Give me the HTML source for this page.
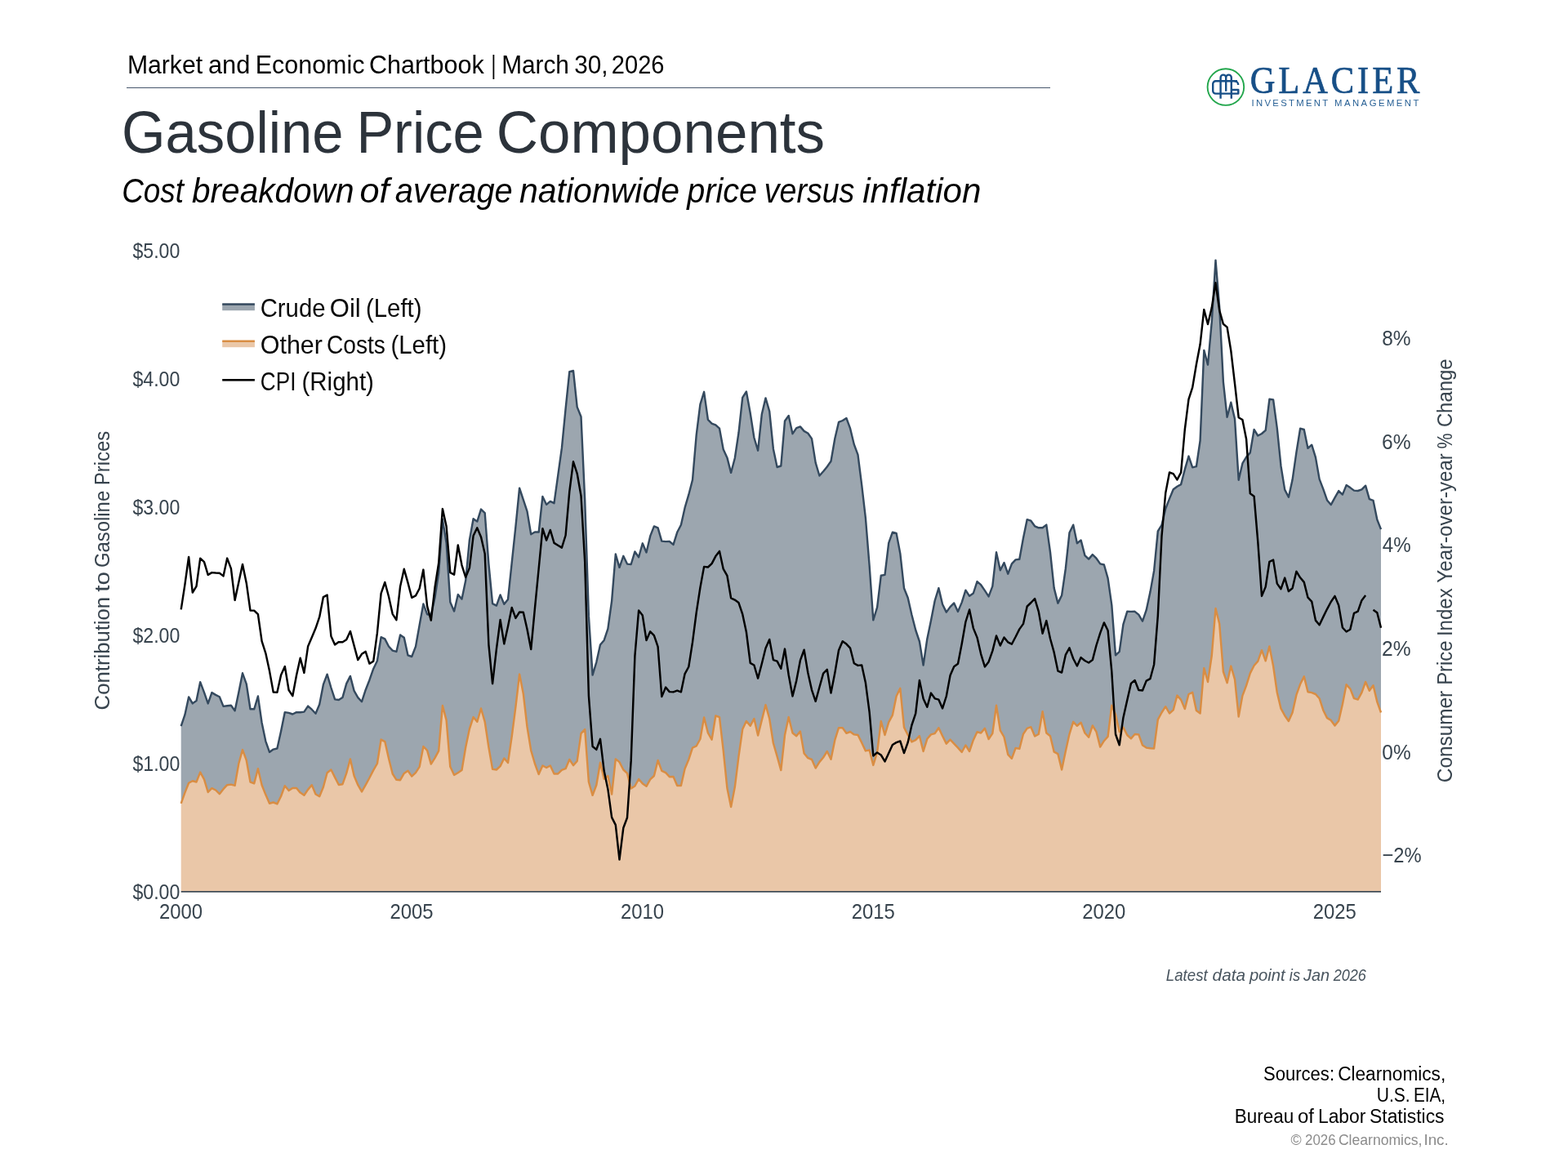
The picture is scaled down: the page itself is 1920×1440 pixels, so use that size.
<!DOCTYPE html>
<html lang="en">
<head>
<meta charset="utf-8">
<title>Gasoline Price Components</title>
<style>
html,body{margin:0;padding:0;background:#fff;}
body{width:1920px;height:1440px;overflow:hidden;font-family:"Liberation Sans",sans-serif;}
svg{display:block;position:absolute;left:0;top:0;}
svg text{font-family:"Liberation Sans",sans-serif;}
svg text.serif{font-family:"Liberation Serif",serif;}
</style>
</head>
<body>
<svg width="1920" height="1440" viewBox="0 0 1920 1440">
<rect x="0" y="0" width="1920" height="1440" fill="#ffffff"/>
<g id="chart">
<path d="M221.7,1091 L221.7,983.8 L226.4,970.6 L231.1,958.8 L235.8,956.2 L240.5,957.5 L245.2,945.6 L250,954.4 L254.7,970 L259.4,965.2 L264.1,967.5 L268.8,972.2 L273.5,966.2 L278.2,961.2 L282.9,960.6 L287.6,961.9 L292.3,935 L297,918.1 L301.8,931.2 L306.5,957.5 L311.2,959.4 L315.9,941.2 L320.6,961.2 L325.3,973.1 L330,983.8 L334.7,982.5 L339.4,984.4 L344.1,975 L348.8,962.2 L353.6,968.1 L358.3,965 L363,965 L367.7,970.6 L372.4,973.8 L377.1,966.9 L381.8,961.2 L386.5,972.5 L391.2,975.2 L395.9,963.8 L400.6,946.2 L405.4,942.5 L410.1,951.9 L414.8,961 L419.5,960.2 L424.2,946.9 L428.9,929.4 L433.6,950 L438.3,961.2 L443,969.4 L447.7,961.2 L452.4,952.5 L457.2,943.1 L461.9,935 L466.6,905.6 L471.3,908.1 L476,928.8 L480.7,947.5 L485.4,954.8 L490.1,955.2 L494.8,946.9 L499.5,943.8 L504.2,950.6 L509,946.2 L513.7,938.8 L518.4,914 L523.1,918.8 L527.8,935.6 L532.5,928.1 L537.2,919.4 L541.9,864 L546.6,881.9 L551.3,938.8 L556.1,949 L560.8,946.2 L565.5,943.1 L570.2,915 L574.9,892.5 L579.6,878.1 L584.3,883.8 L589,867.5 L593.7,883.8 L598.4,915 L603.1,941.9 L607.9,942.5 L612.6,938.1 L617.3,928.5 L622,934 L626.7,901.9 L631.4,865.6 L636.1,825.6 L640.8,849.4 L645.5,890 L650.2,918.8 L654.9,935 L659.7,948.1 L664.4,937.5 L669.1,940 L673.8,937.5 L678.5,947.5 L683.2,947.5 L687.9,942.8 L692.6,941.2 L697.3,930 L702,937.2 L706.7,931.9 L711.5,898.1 L716.2,893.1 L720.9,957.5 L725.6,973.8 L730.3,961.2 L735,933.8 L739.7,953.8 L744.4,950 L749.1,972.5 L753.8,929.4 L758.5,933.1 L763.3,942.5 L768,946.9 L772.7,965.6 L777.4,962.5 L782.1,954 L786.8,959.4 L791.5,962.8 L796.2,954.4 L800.9,950 L805.6,931 L810.3,943.8 L815.1,946.2 L819.8,951.2 L824.5,951 L829.2,961.9 L833.9,961.9 L838.6,941.2 L843.3,930 L848,915.6 L852.7,913.5 L857.4,905 L862.1,878.5 L866.9,897.5 L871.6,905.6 L876.3,876.5 L881,878.1 L885.7,918.8 L890.4,965 L895.1,988.1 L899.8,963.8 L904.5,926.2 L909.2,893.1 L913.9,883.1 L918.7,888.8 L923.4,880 L928.1,900.6 L932.8,881.9 L937.5,863.1 L942.2,880 L946.9,910 L951.6,926.2 L956.3,943.1 L961,900 L965.7,878.1 L970.5,897.5 L975.2,901.2 L979.9,895.6 L984.6,922.5 L989.3,928.1 L994,930 L998.7,940.6 L1003.4,933.1 L1008.1,927.5 L1012.8,920 L1017.5,929.8 L1022.3,906.2 L1027,891.2 L1031.7,891.2 L1036.4,897.8 L1041.1,896 L1045.8,899.4 L1050.5,900 L1055.2,909.4 L1059.9,919.4 L1064.6,918.5 L1069.3,936.9 L1074.1,921.2 L1078.8,883.1 L1083.5,900 L1088.2,884.4 L1092.9,875.6 L1097.6,852.5 L1102.3,842.8 L1107,890.6 L1111.7,900 L1116.4,908.4 L1121.2,906.2 L1125.9,901.2 L1130.6,920 L1135.3,904.8 L1140,899.4 L1144.7,898.1 L1149.4,891.2 L1154.1,901.2 L1158.8,910.6 L1163.5,905.6 L1168.2,910.6 L1173,915.6 L1177.7,921 L1182.4,912.5 L1187.1,920 L1191.8,906.2 L1196.5,896.2 L1201.2,897.5 L1205.9,891.9 L1210.6,905 L1215.3,898.1 L1220,863.8 L1224.8,894.4 L1229.5,902.5 L1234.2,923.8 L1238.9,928.8 L1243.6,916 L1248.3,916.9 L1253,898.8 L1257.7,891.9 L1262.4,890.2 L1267.1,901.5 L1271.8,899 L1276.6,871.2 L1281.3,897.5 L1286,901.2 L1290.7,920.6 L1295.4,923.1 L1300.1,942.5 L1304.8,920 L1309.5,898.8 L1314.2,883.8 L1318.9,888.8 L1323.6,884.8 L1328.4,897.5 L1333.1,902.8 L1337.8,888.5 L1342.5,896.2 L1347.2,914.6 L1351.9,907.2 L1356.6,901.9 L1361.3,863.8 L1366,875 L1370.7,896 L1375.4,890.6 L1380.2,900 L1384.9,904.4 L1389.6,899 L1394.3,899.4 L1399,912.5 L1403.7,915.6 L1408.4,916.2 L1413.1,916.5 L1417.8,881.2 L1422.5,872.5 L1427.2,865.2 L1432,873.5 L1436.7,869.4 L1441.4,851.6 L1446.1,856.9 L1450.8,868.1 L1455.5,850 L1460.2,847.8 L1464.9,870 L1469.6,873.5 L1474.3,818.1 L1479,835 L1483.8,802.5 L1488.5,745 L1493.2,763.8 L1497.9,822.5 L1502.6,836.2 L1507.3,815.6 L1512,831.9 L1516.7,877.5 L1521.4,851.9 L1526.1,839.4 L1530.8,824.4 L1535.6,815 L1540.3,809.6 L1545,796.2 L1549.7,809.3 L1554.4,791.4 L1559.1,815.6 L1563.8,848 L1568.5,867.6 L1573.2,876.2 L1577.9,883 L1582.6,872.5 L1587.4,850.9 L1592.1,837.8 L1596.8,828.4 L1601.5,847.2 L1606.2,848.1 L1610.9,850 L1615.6,855.2 L1620.3,869.7 L1625,879.1 L1629.7,881.9 L1634.5,888.4 L1639.2,882.8 L1643.9,862.2 L1648.6,838.3 L1653.3,843.4 L1658,855.2 L1662.7,856.6 L1667.4,848.1 L1672.1,835 L1676.8,845.8 L1681.5,839.2 L1686.3,859.4 L1691,872.5 L1691,1091 Z" fill="#eac7a8" stroke="none"/>
<path d="M221.7,889.1 L226.4,875.2 L231.1,853.4 L235.8,861.4 L240.5,858 L245.2,835.1 L250,847.9 L254.7,861.4 L259.4,848.1 L264.1,850.9 L268.8,853.3 L273.5,864.9 L278.2,864.3 L282.9,863.8 L287.6,870.2 L292.3,847.8 L297,824.3 L301.8,837.7 L306.5,868.3 L311.2,868.3 L315.9,852.5 L320.6,885 L325.3,907.6 L330,920.9 L334.7,917.6 L339.4,916.5 L344.1,895.3 L348.8,872.1 L353.6,872.9 L358.3,874.5 L363,872.1 L367.7,872.3 L372.4,871.6 L377.1,864.6 L381.8,868.7 L386.5,873.8 L391.2,862.5 L395.9,838.2 L400.6,825.7 L405.4,842 L410.1,856.4 L414.8,857 L419.5,853.9 L424.2,837.1 L428.9,827.9 L433.6,845.9 L438.3,854.1 L443,859.2 L447.7,844.7 L452.4,832.7 L457.2,818.9 L461.9,809.2 L466.6,780.2 L471.3,782.4 L476,791.5 L480.7,796.6 L485.4,797.9 L490.1,777.5 L494.8,780.8 L499.5,802.4 L504.2,804 L509,791.6 L513.7,765.1 L518.4,739.4 L523.1,752.2 L527.8,753 L532.5,732 L537.2,701.2 L541.9,635.8 L546.6,665 L551.3,737.2 L556.1,748.5 L560.8,727.9 L565.5,733.6 L570.2,710.8 L574.9,661.1 L579.6,635.2 L584.3,638.6 L589,623.6 L593.7,628.1 L598.4,690.4 L603.1,739.1 L607.9,741.6 L612.6,728.4 L617.3,739.8 L622,733.9 L626.7,689.2 L631.4,644.9 L636.1,597.7 L640.8,611.8 L645.5,626.1 L650.2,654.2 L654.9,651.5 L659.7,651.5 L664.4,608 L669.1,617.8 L673.8,613.9 L678.5,616.2 L683.2,582.3 L687.9,548.7 L692.6,500.4 L697.3,455.2 L702,454 L706.7,498.4 L711.5,510.3 L716.2,612.6 L720.9,754.4 L725.6,826.6 L730.3,810.8 L735,789.6 L739.7,783.9 L744.4,769.8 L749.1,735.8 L753.8,678.5 L758.5,694.8 L763.3,680.8 L768,690.6 L772.7,691 L777.4,675.4 L782.1,682.3 L786.8,665.3 L791.5,676.5 L796.2,656.4 L800.9,644.4 L805.6,646.3 L810.3,662.6 L815.1,663.1 L819.8,663 L824.5,666.9 L829.2,651.8 L833.9,642.7 L838.6,621.7 L843.3,605.7 L848,587.5 L852.7,532.6 L857.4,495.1 L862.1,479.8 L866.9,513.9 L871.6,518.6 L876.3,520.3 L881,524.7 L885.7,550.3 L890.4,560.4 L895.1,578.9 L899.8,561 L904.5,529.8 L909.2,486.9 L913.9,479.4 L918.7,505.7 L923.4,536 L928.1,551.7 L932.8,507.3 L937.5,487.4 L942.2,503.6 L946.9,549.7 L951.6,572 L956.3,570.5 L961,515.5 L965.7,509 L970.5,531.2 L975.2,524.1 L979.9,522.4 L984.6,527.9 L989.3,530.5 L994,537.1 L998.7,566.6 L1003.4,582.5 L1008.1,577.3 L1012.8,571.5 L1017.5,564.7 L1022.3,537 L1027,516.9 L1031.7,515 L1036.4,512 L1041.1,524.7 L1045.8,544.2 L1050.5,556.9 L1055.2,593.8 L1059.9,634.4 L1064.6,692.3 L1069.3,759.3 L1074.1,743.6 L1078.8,704.7 L1083.5,703.9 L1088.2,664.8 L1092.9,651.7 L1097.6,652.9 L1102.3,677.7 L1107,720.2 L1111.7,732 L1116.4,752.7 L1121.2,771.5 L1125.9,785.5 L1130.6,814.5 L1135.3,782.4 L1140,759.8 L1144.7,735.5 L1149.4,720.1 L1154.1,740 L1158.8,749.6 L1163.5,743.1 L1168.2,738.4 L1173,748.9 L1177.7,737.6 L1182.4,722.7 L1187.1,729.8 L1191.8,726.5 L1196.5,712.1 L1201.2,716.2 L1205.9,723.1 L1210.6,730.4 L1215.3,717.9 L1220,676.3 L1224.8,698.3 L1229.5,689 L1234.2,702.7 L1238.9,690.4 L1243.6,685.4 L1248.3,684.8 L1253,658.7 L1257.7,636.1 L1262.4,637.7 L1267.1,644.3 L1271.8,646.3 L1276.6,646.3 L1281.3,642.6 L1286,676 L1290.7,720.1 L1295.4,738.6 L1300.1,729 L1304.8,696.5 L1309.5,652.3 L1314.2,642.7 L1318.9,665.2 L1323.6,661.4 L1328.4,680.1 L1333.1,684.6 L1337.8,679.1 L1342.5,683.7 L1347.2,690.4 L1351.9,691.5 L1356.6,708.2 L1361.3,740.8 L1366,802.4 L1370.7,797.9 L1375.4,764.6 L1380.2,748.8 L1384.9,748.9 L1389.6,748.8 L1394.3,752.7 L1399,760.6 L1403.7,746.9 L1408.4,725.1 L1413.1,698.9 L1417.8,650.4 L1422.5,642.9 L1427.2,623 L1432,610.6 L1436.7,599.3 L1441.4,595.8 L1446.1,593.1 L1450.8,574.9 L1455.5,558.6 L1460.2,572.4 L1464.9,571.2 L1469.6,539.5 L1474.3,428.9 L1479,446.6 L1483.8,394 L1488.5,318.6 L1493.2,376 L1497.9,467.6 L1502.6,510.8 L1507.3,492.7 L1512,513.1 L1516.7,587.7 L1521.4,567.4 L1526.1,559.6 L1530.8,554.4 L1535.6,526 L1540.3,533.5 L1545,531 L1549.7,526.9 L1554.4,488.8 L1559.1,489.4 L1563.8,524.4 L1568.5,570.7 L1573.2,599.6 L1577.9,608.8 L1582.6,587.3 L1587.4,553.8 L1592.1,524.7 L1596.8,526 L1601.5,548.9 L1606.2,544.7 L1610.9,559.9 L1615.6,586.6 L1620.3,598.9 L1625,612.4 L1629.7,618.1 L1634.5,609.4 L1639.2,601.1 L1643.9,605.6 L1648.6,594.1 L1653.3,597.1 L1658,600.6 L1662.7,601 L1667.4,599.4 L1672.1,594.7 L1676.8,611.2 L1681.5,612.8 L1686.3,636.3 L1691,648.1 L1691,872.5 L1686.3,859.4 L1681.5,839.2 L1676.8,845.8 L1672.1,835 L1667.4,848.1 L1662.7,856.6 L1658,855.2 L1653.3,843.4 L1648.6,838.3 L1643.9,862.2 L1639.2,882.8 L1634.5,888.4 L1629.7,881.9 L1625,879.1 L1620.3,869.7 L1615.6,855.2 L1610.9,850 L1606.2,848.1 L1601.5,847.2 L1596.8,828.4 L1592.1,837.8 L1587.4,850.9 L1582.6,872.5 L1577.9,883 L1573.2,876.2 L1568.5,867.6 L1563.8,848 L1559.1,815.6 L1554.4,791.4 L1549.7,809.3 L1545,796.2 L1540.3,809.6 L1535.6,815 L1530.8,824.4 L1526.1,839.4 L1521.4,851.9 L1516.7,877.5 L1512,831.9 L1507.3,815.6 L1502.6,836.2 L1497.9,822.5 L1493.2,763.8 L1488.5,745 L1483.8,802.5 L1479,835 L1474.3,818.1 L1469.6,873.5 L1464.9,870 L1460.2,847.8 L1455.5,850 L1450.8,868.1 L1446.1,856.9 L1441.4,851.6 L1436.7,869.4 L1432,873.5 L1427.2,865.2 L1422.5,872.5 L1417.8,881.2 L1413.1,916.5 L1408.4,916.2 L1403.7,915.6 L1399,912.5 L1394.3,899.4 L1389.6,899 L1384.9,904.4 L1380.2,900 L1375.4,890.6 L1370.7,896 L1366,875 L1361.3,863.8 L1356.6,901.9 L1351.9,907.2 L1347.2,914.6 L1342.5,896.2 L1337.8,888.5 L1333.1,902.8 L1328.4,897.5 L1323.6,884.8 L1318.9,888.8 L1314.2,883.8 L1309.5,898.8 L1304.8,920 L1300.1,942.5 L1295.4,923.1 L1290.7,920.6 L1286,901.2 L1281.3,897.5 L1276.6,871.2 L1271.8,899 L1267.1,901.5 L1262.4,890.2 L1257.7,891.9 L1253,898.8 L1248.3,916.9 L1243.6,916 L1238.9,928.8 L1234.2,923.8 L1229.5,902.5 L1224.8,894.4 L1220,863.8 L1215.3,898.1 L1210.6,905 L1205.9,891.9 L1201.2,897.5 L1196.5,896.2 L1191.8,906.2 L1187.1,920 L1182.4,912.5 L1177.7,921 L1173,915.6 L1168.2,910.6 L1163.5,905.6 L1158.8,910.6 L1154.1,901.2 L1149.4,891.2 L1144.7,898.1 L1140,899.4 L1135.3,904.8 L1130.6,920 L1125.9,901.2 L1121.2,906.2 L1116.4,908.4 L1111.7,900 L1107,890.6 L1102.3,842.8 L1097.6,852.5 L1092.9,875.6 L1088.2,884.4 L1083.5,900 L1078.8,883.1 L1074.1,921.2 L1069.3,936.9 L1064.6,918.5 L1059.9,919.4 L1055.2,909.4 L1050.5,900 L1045.8,899.4 L1041.1,896 L1036.4,897.8 L1031.7,891.2 L1027,891.2 L1022.3,906.2 L1017.5,929.8 L1012.8,920 L1008.1,927.5 L1003.4,933.1 L998.7,940.6 L994,930 L989.3,928.1 L984.6,922.5 L979.9,895.6 L975.2,901.2 L970.5,897.5 L965.7,878.1 L961,900 L956.3,943.1 L951.6,926.2 L946.9,910 L942.2,880 L937.5,863.1 L932.8,881.9 L928.1,900.6 L923.4,880 L918.7,888.8 L913.9,883.1 L909.2,893.1 L904.5,926.2 L899.8,963.8 L895.1,988.1 L890.4,965 L885.7,918.8 L881,878.1 L876.3,876.5 L871.6,905.6 L866.9,897.5 L862.1,878.5 L857.4,905 L852.7,913.5 L848,915.6 L843.3,930 L838.6,941.2 L833.9,961.9 L829.2,961.9 L824.5,951 L819.8,951.2 L815.1,946.2 L810.3,943.8 L805.6,931 L800.9,950 L796.2,954.4 L791.5,962.8 L786.8,959.4 L782.1,954 L777.4,962.5 L772.7,965.6 L768,946.9 L763.3,942.5 L758.5,933.1 L753.8,929.4 L749.1,972.5 L744.4,950 L739.7,953.8 L735,933.8 L730.3,961.2 L725.6,973.8 L720.9,957.5 L716.2,893.1 L711.5,898.1 L706.7,931.9 L702,937.2 L697.3,930 L692.6,941.2 L687.9,942.8 L683.2,947.5 L678.5,947.5 L673.8,937.5 L669.1,940 L664.4,937.5 L659.7,948.1 L654.9,935 L650.2,918.8 L645.5,890 L640.8,849.4 L636.1,825.6 L631.4,865.6 L626.7,901.9 L622,934 L617.3,928.5 L612.6,938.1 L607.9,942.5 L603.1,941.9 L598.4,915 L593.7,883.8 L589,867.5 L584.3,883.8 L579.6,878.1 L574.9,892.5 L570.2,915 L565.5,943.1 L560.8,946.2 L556.1,949 L551.3,938.8 L546.6,881.9 L541.9,864 L537.2,919.4 L532.5,928.1 L527.8,935.6 L523.1,918.8 L518.4,914 L513.7,938.8 L509,946.2 L504.2,950.6 L499.5,943.8 L494.8,946.9 L490.1,955.2 L485.4,954.8 L480.7,947.5 L476,928.8 L471.3,908.1 L466.6,905.6 L461.9,935 L457.2,943.1 L452.4,952.5 L447.7,961.2 L443,969.4 L438.3,961.2 L433.6,950 L428.9,929.4 L424.2,946.9 L419.5,960.2 L414.8,961 L410.1,951.9 L405.4,942.5 L400.6,946.2 L395.9,963.8 L391.2,975.2 L386.5,972.5 L381.8,961.2 L377.1,966.9 L372.4,973.8 L367.7,970.6 L363,965 L358.3,965 L353.6,968.1 L348.8,962.2 L344.1,975 L339.4,984.4 L334.7,982.5 L330,983.8 L325.3,973.1 L320.6,961.2 L315.9,941.2 L311.2,959.4 L306.5,957.5 L301.8,931.2 L297,918.1 L292.3,935 L287.6,961.9 L282.9,960.6 L278.2,961.2 L273.5,966.2 L268.8,972.2 L264.1,967.5 L259.4,965.2 L254.7,970 L250,954.4 L245.2,945.6 L240.5,957.5 L235.8,956.2 L231.1,958.8 L226.4,970.6 L221.7,983.8 Z" fill="#9ca6af" stroke="none"/>
<path d="M221.7,983.8 L226.4,970.6 L231.1,958.8 L235.8,956.2 L240.5,957.5 L245.2,945.6 L250,954.4 L254.7,970 L259.4,965.2 L264.1,967.5 L268.8,972.2 L273.5,966.2 L278.2,961.2 L282.9,960.6 L287.6,961.9 L292.3,935 L297,918.1 L301.8,931.2 L306.5,957.5 L311.2,959.4 L315.9,941.2 L320.6,961.2 L325.3,973.1 L330,983.8 L334.7,982.5 L339.4,984.4 L344.1,975 L348.8,962.2 L353.6,968.1 L358.3,965 L363,965 L367.7,970.6 L372.4,973.8 L377.1,966.9 L381.8,961.2 L386.5,972.5 L391.2,975.2 L395.9,963.8 L400.6,946.2 L405.4,942.5 L410.1,951.9 L414.8,961 L419.5,960.2 L424.2,946.9 L428.9,929.4 L433.6,950 L438.3,961.2 L443,969.4 L447.7,961.2 L452.4,952.5 L457.2,943.1 L461.9,935 L466.6,905.6 L471.3,908.1 L476,928.8 L480.7,947.5 L485.4,954.8 L490.1,955.2 L494.8,946.9 L499.5,943.8 L504.2,950.6 L509,946.2 L513.7,938.8 L518.4,914 L523.1,918.8 L527.8,935.6 L532.5,928.1 L537.2,919.4 L541.9,864 L546.6,881.9 L551.3,938.8 L556.1,949 L560.8,946.2 L565.5,943.1 L570.2,915 L574.9,892.5 L579.6,878.1 L584.3,883.8 L589,867.5 L593.7,883.8 L598.4,915 L603.1,941.9 L607.9,942.5 L612.6,938.1 L617.3,928.5 L622,934 L626.7,901.9 L631.4,865.6 L636.1,825.6 L640.8,849.4 L645.5,890 L650.2,918.8 L654.9,935 L659.7,948.1 L664.4,937.5 L669.1,940 L673.8,937.5 L678.5,947.5 L683.2,947.5 L687.9,942.8 L692.6,941.2 L697.3,930 L702,937.2 L706.7,931.9 L711.5,898.1 L716.2,893.1 L720.9,957.5 L725.6,973.8 L730.3,961.2 L735,933.8 L739.7,953.8 L744.4,950 L749.1,972.5 L753.8,929.4 L758.5,933.1 L763.3,942.5 L768,946.9 L772.7,965.6 L777.4,962.5 L782.1,954 L786.8,959.4 L791.5,962.8 L796.2,954.4 L800.9,950 L805.6,931 L810.3,943.8 L815.1,946.2 L819.8,951.2 L824.5,951 L829.2,961.9 L833.9,961.9 L838.6,941.2 L843.3,930 L848,915.6 L852.7,913.5 L857.4,905 L862.1,878.5 L866.9,897.5 L871.6,905.6 L876.3,876.5 L881,878.1 L885.7,918.8 L890.4,965 L895.1,988.1 L899.8,963.8 L904.5,926.2 L909.2,893.1 L913.9,883.1 L918.7,888.8 L923.4,880 L928.1,900.6 L932.8,881.9 L937.5,863.1 L942.2,880 L946.9,910 L951.6,926.2 L956.3,943.1 L961,900 L965.7,878.1 L970.5,897.5 L975.2,901.2 L979.9,895.6 L984.6,922.5 L989.3,928.1 L994,930 L998.7,940.6 L1003.4,933.1 L1008.1,927.5 L1012.8,920 L1017.5,929.8 L1022.3,906.2 L1027,891.2 L1031.7,891.2 L1036.4,897.8 L1041.1,896 L1045.8,899.4 L1050.5,900 L1055.2,909.4 L1059.9,919.4 L1064.6,918.5 L1069.3,936.9 L1074.1,921.2 L1078.8,883.1 L1083.5,900 L1088.2,884.4 L1092.9,875.6 L1097.6,852.5 L1102.3,842.8 L1107,890.6 L1111.7,900 L1116.4,908.4 L1121.2,906.2 L1125.9,901.2 L1130.6,920 L1135.3,904.8 L1140,899.4 L1144.7,898.1 L1149.4,891.2 L1154.1,901.2 L1158.8,910.6 L1163.5,905.6 L1168.2,910.6 L1173,915.6 L1177.7,921 L1182.4,912.5 L1187.1,920 L1191.8,906.2 L1196.5,896.2 L1201.2,897.5 L1205.9,891.9 L1210.6,905 L1215.3,898.1 L1220,863.8 L1224.8,894.4 L1229.5,902.5 L1234.2,923.8 L1238.9,928.8 L1243.6,916 L1248.3,916.9 L1253,898.8 L1257.7,891.9 L1262.4,890.2 L1267.1,901.5 L1271.8,899 L1276.6,871.2 L1281.3,897.5 L1286,901.2 L1290.7,920.6 L1295.4,923.1 L1300.1,942.5 L1304.8,920 L1309.5,898.8 L1314.2,883.8 L1318.9,888.8 L1323.6,884.8 L1328.4,897.5 L1333.1,902.8 L1337.8,888.5 L1342.5,896.2 L1347.2,914.6 L1351.9,907.2 L1356.6,901.9 L1361.3,863.8 L1366,875 L1370.7,896 L1375.4,890.6 L1380.2,900 L1384.9,904.4 L1389.6,899 L1394.3,899.4 L1399,912.5 L1403.7,915.6 L1408.4,916.2 L1413.1,916.5 L1417.8,881.2 L1422.5,872.5 L1427.2,865.2 L1432,873.5 L1436.7,869.4 L1441.4,851.6 L1446.1,856.9 L1450.8,868.1 L1455.5,850 L1460.2,847.8 L1464.9,870 L1469.6,873.5 L1474.3,818.1 L1479,835 L1483.8,802.5 L1488.5,745 L1493.2,763.8 L1497.9,822.5 L1502.6,836.2 L1507.3,815.6 L1512,831.9 L1516.7,877.5 L1521.4,851.9 L1526.1,839.4 L1530.8,824.4 L1535.6,815 L1540.3,809.6 L1545,796.2 L1549.7,809.3 L1554.4,791.4 L1559.1,815.6 L1563.8,848 L1568.5,867.6 L1573.2,876.2 L1577.9,883 L1582.6,872.5 L1587.4,850.9 L1592.1,837.8 L1596.8,828.4 L1601.5,847.2 L1606.2,848.1 L1610.9,850 L1615.6,855.2 L1620.3,869.7 L1625,879.1 L1629.7,881.9 L1634.5,888.4 L1639.2,882.8 L1643.9,862.2 L1648.6,838.3 L1653.3,843.4 L1658,855.2 L1662.7,856.6 L1667.4,848.1 L1672.1,835 L1676.8,845.8 L1681.5,839.2 L1686.3,859.4 L1691,872.5" fill="none" stroke="#d98d43" stroke-width="2.45" stroke-linejoin="round"/>
<path d="M221.7,889.1 L226.4,875.2 L231.1,853.4 L235.8,861.4 L240.5,858 L245.2,835.1 L250,847.9 L254.7,861.4 L259.4,848.1 L264.1,850.9 L268.8,853.3 L273.5,864.9 L278.2,864.3 L282.9,863.8 L287.6,870.2 L292.3,847.8 L297,824.3 L301.8,837.7 L306.5,868.3 L311.2,868.3 L315.9,852.5 L320.6,885 L325.3,907.6 L330,920.9 L334.7,917.6 L339.4,916.5 L344.1,895.3 L348.8,872.1 L353.6,872.9 L358.3,874.5 L363,872.1 L367.7,872.3 L372.4,871.6 L377.1,864.6 L381.8,868.7 L386.5,873.8 L391.2,862.5 L395.9,838.2 L400.6,825.7 L405.4,842 L410.1,856.4 L414.8,857 L419.5,853.9 L424.2,837.1 L428.9,827.9 L433.6,845.9 L438.3,854.1 L443,859.2 L447.7,844.7 L452.4,832.7 L457.2,818.9 L461.9,809.2 L466.6,780.2 L471.3,782.4 L476,791.5 L480.7,796.6 L485.4,797.9 L490.1,777.5 L494.8,780.8 L499.5,802.4 L504.2,804 L509,791.6 L513.7,765.1 L518.4,739.4 L523.1,752.2 L527.8,753 L532.5,732 L537.2,701.2 L541.9,635.8 L546.6,665 L551.3,737.2 L556.1,748.5 L560.8,727.9 L565.5,733.6 L570.2,710.8 L574.9,661.1 L579.6,635.2 L584.3,638.6 L589,623.6 L593.7,628.1 L598.4,690.4 L603.1,739.1 L607.9,741.6 L612.6,728.4 L617.3,739.8 L622,733.9 L626.7,689.2 L631.4,644.9 L636.1,597.7 L640.8,611.8 L645.5,626.1 L650.2,654.2 L654.9,651.5 L659.7,651.5 L664.4,608 L669.1,617.8 L673.8,613.9 L678.5,616.2 L683.2,582.3 L687.9,548.7 L692.6,500.4 L697.3,455.2 L702,454 L706.7,498.4 L711.5,510.3 L716.2,612.6 L720.9,754.4 L725.6,826.6 L730.3,810.8 L735,789.6 L739.7,783.9 L744.4,769.8 L749.1,735.8 L753.8,678.5 L758.5,694.8 L763.3,680.8 L768,690.6 L772.7,691 L777.4,675.4 L782.1,682.3 L786.8,665.3 L791.5,676.5 L796.2,656.4 L800.9,644.4 L805.6,646.3 L810.3,662.6 L815.1,663.1 L819.8,663 L824.5,666.9 L829.2,651.8 L833.9,642.7 L838.6,621.7 L843.3,605.7 L848,587.5 L852.7,532.6 L857.4,495.1 L862.1,479.8 L866.9,513.9 L871.6,518.6 L876.3,520.3 L881,524.7 L885.7,550.3 L890.4,560.4 L895.1,578.9 L899.8,561 L904.5,529.8 L909.2,486.9 L913.9,479.4 L918.7,505.7 L923.4,536 L928.1,551.7 L932.8,507.3 L937.5,487.4 L942.2,503.6 L946.9,549.7 L951.6,572 L956.3,570.5 L961,515.5 L965.7,509 L970.5,531.2 L975.2,524.1 L979.9,522.4 L984.6,527.9 L989.3,530.5 L994,537.1 L998.7,566.6 L1003.4,582.5 L1008.1,577.3 L1012.8,571.5 L1017.5,564.7 L1022.3,537 L1027,516.9 L1031.7,515 L1036.4,512 L1041.1,524.7 L1045.8,544.2 L1050.5,556.9 L1055.2,593.8 L1059.9,634.4 L1064.6,692.3 L1069.3,759.3 L1074.1,743.6 L1078.8,704.7 L1083.5,703.9 L1088.2,664.8 L1092.9,651.7 L1097.6,652.9 L1102.3,677.7 L1107,720.2 L1111.7,732 L1116.4,752.7 L1121.2,771.5 L1125.9,785.5 L1130.6,814.5 L1135.3,782.4 L1140,759.8 L1144.7,735.5 L1149.4,720.1 L1154.1,740 L1158.8,749.6 L1163.5,743.1 L1168.2,738.4 L1173,748.9 L1177.7,737.6 L1182.4,722.7 L1187.1,729.8 L1191.8,726.5 L1196.5,712.1 L1201.2,716.2 L1205.9,723.1 L1210.6,730.4 L1215.3,717.9 L1220,676.3 L1224.8,698.3 L1229.5,689 L1234.2,702.7 L1238.9,690.4 L1243.6,685.4 L1248.3,684.8 L1253,658.7 L1257.7,636.1 L1262.4,637.7 L1267.1,644.3 L1271.8,646.3 L1276.6,646.3 L1281.3,642.6 L1286,676 L1290.7,720.1 L1295.4,738.6 L1300.1,729 L1304.8,696.5 L1309.5,652.3 L1314.2,642.7 L1318.9,665.2 L1323.6,661.4 L1328.4,680.1 L1333.1,684.6 L1337.8,679.1 L1342.5,683.7 L1347.2,690.4 L1351.9,691.5 L1356.6,708.2 L1361.3,740.8 L1366,802.4 L1370.7,797.9 L1375.4,764.6 L1380.2,748.8 L1384.9,748.9 L1389.6,748.8 L1394.3,752.7 L1399,760.6 L1403.7,746.9 L1408.4,725.1 L1413.1,698.9 L1417.8,650.4 L1422.5,642.9 L1427.2,623 L1432,610.6 L1436.7,599.3 L1441.4,595.8 L1446.1,593.1 L1450.8,574.9 L1455.5,558.6 L1460.2,572.4 L1464.9,571.2 L1469.6,539.5 L1474.3,428.9 L1479,446.6 L1483.8,394 L1488.5,318.6 L1493.2,376 L1497.9,467.6 L1502.6,510.8 L1507.3,492.7 L1512,513.1 L1516.7,587.7 L1521.4,567.4 L1526.1,559.6 L1530.8,554.4 L1535.6,526 L1540.3,533.5 L1545,531 L1549.7,526.9 L1554.4,488.8 L1559.1,489.4 L1563.8,524.4 L1568.5,570.7 L1573.2,599.6 L1577.9,608.8 L1582.6,587.3 L1587.4,553.8 L1592.1,524.7 L1596.8,526 L1601.5,548.9 L1606.2,544.7 L1610.9,559.9 L1615.6,586.6 L1620.3,598.9 L1625,612.4 L1629.7,618.1 L1634.5,609.4 L1639.2,601.1 L1643.9,605.6 L1648.6,594.1 L1653.3,597.1 L1658,600.6 L1662.7,601 L1667.4,599.4 L1672.1,594.7 L1676.8,611.2 L1681.5,612.8 L1686.3,636.3 L1691,648.1" fill="none" stroke="#34495e" stroke-width="2.4" stroke-linejoin="round"/>
<path d="M221.7,746.4 L226.4,715.9 L231.1,681.9 L235.8,725.6 L240.5,717.9 L245.2,683.7 L250,688.2 L254.7,703.9 L259.4,701.1 L264.1,701.5 L268.8,701.7 L273.5,705.4 L278.2,683.6 L282.9,696.1 L287.6,734.9 L292.3,712.9 L297,691 L301.8,714.2 L306.5,747.6 L311.2,747.6 L315.9,752.2 L320.6,785.2 L325.3,799.8 L330,821.6 L334.7,847.5 L339.4,847.8 L344.1,826.4 L348.8,816 L353.6,845 L358.3,852.2 L363,827.1 L367.7,805.7 L372.4,823.9 L377.1,791.6 L381.8,780.6 L386.5,769.3 L391.2,755.4 L395.9,731.1 L400.6,728.6 L405.4,779 L410.1,789.5 L414.8,786.1 L419.5,786.2 L424.2,783.2 L428.9,772.9 L433.6,790.6 L438.3,808.1 L443,800.8 L447.7,797.9 L452.4,812.6 L457.2,809.8 L461.9,775.2 L466.6,726.6 L471.3,713 L476,730.5 L480.7,751.8 L485.4,759.2 L490.1,717.9 L494.8,696.8 L499.5,713.7 L504.2,731.8 L509,729.4 L513.7,720.5 L518.4,697.6 L523.1,742.4 L527.8,759.6 L532.5,719.3 L537.2,689.3 L541.9,623.1 L546.6,644.6 L551.3,701.1 L556.1,703.6 L560.8,667.5 L565.5,692.1 L570.2,706.9 L574.9,695.4 L579.6,656 L584.3,646.4 L589,657.4 L593.7,678.1 L598.4,789.3 L603.1,837.2 L607.9,794.9 L612.6,759 L617.3,788.4 L622,766.9 L626.7,743.9 L631.4,756.9 L636.1,749.5 L640.8,749.7 L645.5,770.5 L650.2,795.1 L654.9,745.4 L659.7,696 L664.4,647.2 L669.1,661.5 L673.8,648.9 L678.5,664.9 L683.2,667.8 L687.9,670.6 L692.6,655.5 L697.3,601.9 L702,565.3 L706.7,579.8 L711.5,607.3 L716.2,688.4 L720.9,852.1 L725.6,914 L730.3,917.9 L735,904.8 L739.7,944.1 L744.4,966.4 L749.1,1000.9 L753.8,1010.1 L758.5,1052.6 L763.3,1013.8 L768,1001.2 L772.7,931.4 L777.4,803.4 L782.1,747.5 L786.8,753.6 L791.5,784.1 L796.2,773.3 L800.9,778.2 L805.6,791.9 L810.3,853.1 L815.1,841.6 L819.8,847.1 L824.5,847.4 L829.2,845.6 L833.9,847.4 L838.6,825.1 L843.3,816.5 L848,786.4 L852.7,750.1 L857.4,719.5 L862.1,693.9 L866.9,694.5 L871.6,690.1 L876.3,681.1 L881,674.9 L885.7,696.7 L890.4,704.9 L895.1,732.3 L899.8,734.6 L904.5,738.1 L909.2,752 L913.9,774 L918.7,811.9 L923.4,814.5 L928.1,830.6 L932.8,812.7 L937.5,793.8 L942.2,782.9 L946.9,808.1 L951.6,809.6 L956.3,818.8 L961,794.6 L965.7,826.5 L970.5,852.5 L975.2,833.6 L979.9,808.7 L984.6,795.7 L989.3,823.7 L994,844.8 L998.7,858.8 L1003.4,841.5 L1008.1,824.7 L1012.8,819.9 L1017.5,848.5 L1022.3,824.1 L1027,796.2 L1031.7,785.2 L1036.4,788.6 L1041.1,793.7 L1045.8,812.2 L1050.5,814.9 L1055.2,814.4 L1059.9,836.1 L1064.6,871.9 L1069.3,925.5 L1074.1,921.4 L1078.8,924.5 L1083.5,932.4 L1088.2,922.3 L1092.9,912 L1097.6,909.1 L1102.3,907.5 L1107,922.1 L1111.7,909 L1116.4,888 L1121.2,873.6 L1125.9,832.9 L1130.6,855.4 L1135.3,865.8 L1140,848.6 L1144.7,855.3 L1149.4,856.7 L1154.1,867.4 L1158.8,852.5 L1163.5,827.1 L1168.2,816.2 L1173,812.7 L1177.7,788.5 L1182.4,761.5 L1187.1,746.5 L1191.8,769.1 L1196.5,780.6 L1201.2,801.1 L1205.9,816.4 L1210.6,810.4 L1215.3,797.1 L1220,778.5 L1224.8,790.6 L1229.5,780.4 L1234.2,786.3 L1238.9,788.7 L1243.6,779.8 L1248.3,770.4 L1253,763.9 L1257.7,742.5 L1262.4,738 L1267.1,733.1 L1271.8,748.9 L1276.6,775.7 L1281.3,760.1 L1286,782 L1290.7,798.9 L1295.4,821.6 L1300.1,823.6 L1304.8,801.9 L1309.5,793.4 L1314.2,806.5 L1318.9,815.5 L1323.6,805.1 L1328.4,809 L1333.1,811.5 L1337.8,808.1 L1342.5,790 L1347.2,775.2 L1351.9,762.4 L1356.6,772 L1361.3,822.4 L1366,899 L1370.7,912.3 L1375.4,878.9 L1380.2,857.4 L1384.9,836.9 L1389.6,833 L1394.3,845 L1399,845.5 L1403.7,833.6 L1408.4,831.2 L1413.1,813.7 L1417.8,754 L1422.5,656.5 L1427.2,603.8 L1432,578.5 L1436.7,580.2 L1441.4,587.4 L1446.1,578.6 L1450.8,526 L1455.5,488.8 L1460.2,474.4 L1464.9,446.3 L1469.6,421.6 L1474.3,379.1 L1479,397 L1483.8,376.6 L1488.5,346.3 L1493.2,380.2 L1497.9,396.8 L1502.6,400.6 L1507.3,429.5 L1512,469.7 L1516.7,511.2 L1521.4,514 L1526.1,537.7 L1530.8,604.3 L1535.6,607.7 L1540.3,663.6 L1545,729.9 L1549.7,718.6 L1554.4,687.8 L1559.1,685.6 L1563.8,714.6 L1568.5,721.2 L1573.2,707.6 L1577.9,724.1 L1582.6,720.2 L1587.4,699.7 L1592.1,707.3 L1596.8,712.9 L1601.5,731.7 L1606.2,736.6 L1610.9,759.6 L1615.6,765.3 L1620.3,755.4 L1625,745.8 L1629.7,737 L1634.5,729.9 L1639.2,741.2 L1643.9,768.5 L1648.6,773.5 L1653.3,770.7 L1658,750.8 L1662.7,748.6 L1667.4,735.2 L1672.1,729.1 M1681.5,746.7 L1686.3,750.3 L1691,768.7" fill="none" stroke="#000000" stroke-width="2.45" stroke-linejoin="round" stroke-linecap="butt"/>
<rect x="221.7" y="1091.0" width="1469.3" height="1.7" fill="#3c4852"/>
</g>
<rect x="155" y="107" width="1131" height="1" fill="#46566b"/>
<rect x="272.2" y="372.6" width="39.7" height="7.6" fill="#9ca6af"/><rect x="272.2" y="371.3" width="39.7" height="2.5" fill="#34495e"/>
<rect x="272.2" y="417.6" width="39.7" height="7.6" fill="#eac7a8"/><rect x="272.2" y="416.5" width="39.7" height="2.5" fill="#d98d43"/>
<rect x="272.2" y="464" width="39.7" height="2.6" fill="#000"/>
<g id="logo">
<circle cx="1500.9" cy="106.6" r="22.3" fill="#fff" stroke="#22a64c" stroke-width="1.9"/>
<g fill="none" stroke="#174f87" stroke-width="2.4" stroke-linecap="butt" stroke-linejoin="round">
<path d="M1494.6,120.8 V95.1 a3.3,3.5 0 0 1 6.6,0 M1501.2,111.7 V95.1 a3.3,3.5 0 0 1 6.6,0 V120.8"/>
<path d="M1515,99.3 H1488.6 a3.4,3.4 0 0 0 -3.4,3.4 V111.2 a3.4,3.4 0 0 0 3.4,3.4 H1516.3 V110 H1507"/>
<path d="M1511.6,99.3 a4.6,4.6 0 0 1 4.6,4.6"/>
</g>
</g>
<text font-size="31" fill="#000" y="90"><tspan x="155.93" textLength="92.2" lengthAdjust="spacingAndGlyphs">Market</tspan> <tspan x="254.99" textLength="51.39" lengthAdjust="spacingAndGlyphs">and</tspan> <tspan x="312.8" textLength="133.6" lengthAdjust="spacingAndGlyphs">Economic</tspan> <tspan x="451.95" textLength="140.81" lengthAdjust="spacingAndGlyphs">Chartbook</tspan> <tspan x="601.62" textLength="5.77" lengthAdjust="spacingAndGlyphs">|</tspan> <tspan x="614.16" textLength="82.78" lengthAdjust="spacingAndGlyphs">March</tspan> <tspan x="703.27" textLength="41.3" lengthAdjust="spacingAndGlyphs">30,</tspan> <tspan x="748.84" textLength="64.64" lengthAdjust="spacingAndGlyphs">2026</tspan></text>
<text font-size="71.5" fill="#2c333b" y="186.6"><tspan x="149.04" textLength="271.52" lengthAdjust="spacingAndGlyphs">Gasoline</tspan> <tspan x="436.38" textLength="156.17" lengthAdjust="spacingAndGlyphs">Price</tspan> <tspan x="607.7" textLength="402.37" lengthAdjust="spacingAndGlyphs">Components</tspan></text>
<text font-size="42" fill="#000" font-style="italic" y="248.3"><tspan x="149.27" textLength="75.76" lengthAdjust="spacingAndGlyphs">Cost</tspan> <tspan x="235.03" textLength="198.42" lengthAdjust="spacingAndGlyphs">breakdown</tspan> <tspan x="440.48" textLength="36.08" lengthAdjust="spacingAndGlyphs">of</tspan> <tspan x="483.81" textLength="143.97" lengthAdjust="spacingAndGlyphs">average</tspan> <tspan x="635.92" textLength="196.2" lengthAdjust="spacingAndGlyphs">nationwide</tspan> <tspan x="841.29" textLength="85.78" lengthAdjust="spacingAndGlyphs">price</tspan> <tspan x="935.75" textLength="110.62" lengthAdjust="spacingAndGlyphs">versus</tspan> <tspan x="1056.22" textLength="145.09" lengthAdjust="spacingAndGlyphs">inflation</tspan></text>
<text font-size="31.2" fill="#0a0a0a" y="388"><tspan x="318.71" textLength="79.79" lengthAdjust="spacingAndGlyphs">Crude</tspan> <tspan x="403.83" textLength="37.95" lengthAdjust="spacingAndGlyphs">Oil</tspan> <tspan x="447.98" textLength="68.54" lengthAdjust="spacingAndGlyphs">(Left)</tspan></text>
<text font-size="31.2" fill="#0a0a0a" y="433"><tspan x="318.76" textLength="76.15" lengthAdjust="spacingAndGlyphs">Other</tspan> <tspan x="399.97" textLength="71.95" lengthAdjust="spacingAndGlyphs">Costs</tspan> <tspan x="478.48" textLength="68.54" lengthAdjust="spacingAndGlyphs">(Left)</tspan></text>
<text font-size="31.2" fill="#0a0a0a" y="478"><tspan x="318.87" textLength="43.54" lengthAdjust="spacingAndGlyphs">CPI</tspan> <tspan x="369.47" textLength="88.46" lengthAdjust="spacingAndGlyphs">(Right)</tspan></text>
<text font-size="26.2" fill="#38444e" y="1100.9"><tspan x="162.45" textLength="57.85" lengthAdjust="spacingAndGlyphs">$0.00</tspan></text>
<text font-size="26.2" fill="#38444e" y="944"><tspan x="162.45" textLength="57.85" lengthAdjust="spacingAndGlyphs">$1.00</tspan></text>
<text font-size="26.2" fill="#38444e" y="787.1"><tspan x="162.45" textLength="57.85" lengthAdjust="spacingAndGlyphs">$2.00</tspan></text>
<text font-size="26.2" fill="#38444e" y="630.2"><tspan x="162.45" textLength="57.85" lengthAdjust="spacingAndGlyphs">$3.00</tspan></text>
<text font-size="26.2" fill="#38444e" y="473.3"><tspan x="162.45" textLength="57.85" lengthAdjust="spacingAndGlyphs">$4.00</tspan></text>
<text font-size="26.2" fill="#38444e" y="316.4"><tspan x="162.45" textLength="57.85" lengthAdjust="spacingAndGlyphs">$5.00</tspan></text>
<text font-size="26.2" fill="#38444e" y="1125"><tspan x="195" textLength="53.03" lengthAdjust="spacingAndGlyphs">2000</tspan></text>
<text font-size="26.2" fill="#38444e" y="1125"><tspan x="477.55" textLength="53.1" lengthAdjust="spacingAndGlyphs">2005</tspan></text>
<text font-size="26.2" fill="#38444e" y="1125"><tspan x="760.1" textLength="53.03" lengthAdjust="spacingAndGlyphs">2010</tspan></text>
<text font-size="26.2" fill="#38444e" y="1125"><tspan x="1042.65" textLength="53.1" lengthAdjust="spacingAndGlyphs">2015</tspan></text>
<text font-size="26.2" fill="#38444e" y="1125"><tspan x="1325.2" textLength="53.03" lengthAdjust="spacingAndGlyphs">2020</tspan></text>
<text font-size="26.2" fill="#38444e" y="1125"><tspan x="1607.75" textLength="53.1" lengthAdjust="spacingAndGlyphs">2025</tspan></text>
<text font-size="26.2" fill="#38444e" y="1056.1"><tspan x="1692.43" textLength="48.12" lengthAdjust="spacingAndGlyphs">−2%</tspan></text>
<text font-size="26.2" fill="#38444e" y="929.5"><tspan x="1692.35" textLength="35.22" lengthAdjust="spacingAndGlyphs">0%</tspan></text>
<text font-size="26.2" fill="#38444e" y="802.9"><tspan x="1692.06" textLength="35.51" lengthAdjust="spacingAndGlyphs">2%</tspan></text>
<text font-size="26.2" fill="#38444e" y="676.3"><tspan x="1692.75" textLength="34.81" lengthAdjust="spacingAndGlyphs">4%</tspan></text>
<text font-size="26.2" fill="#38444e" y="549.7"><tspan x="1692.05" textLength="35.53" lengthAdjust="spacingAndGlyphs">6%</tspan></text>
<text font-size="26.2" fill="#38444e" y="423.1"><tspan x="1692.24" textLength="35.33" lengthAdjust="spacingAndGlyphs">8%</tspan></text>
<text font-size="25.5" fill="#38444e" transform="translate(133.7,0) rotate(-90)" y="0"><tspan x="-869.41" textLength="138.57" lengthAdjust="spacingAndGlyphs">Contribution</tspan> <tspan x="-724.85" textLength="24.8" lengthAdjust="spacingAndGlyphs">to</tspan> <tspan x="-695" textLength="94.16" lengthAdjust="spacingAndGlyphs">Gasoline</tspan> <tspan x="-594.27" textLength="66.63" lengthAdjust="spacingAndGlyphs">Prices</tspan></text>
<text font-size="25.5" fill="#38444e" transform="translate(1778.1,0) rotate(-90)" y="0"><tspan x="-958.14" textLength="112.24" lengthAdjust="spacingAndGlyphs">Consumer</tspan> <tspan x="-838.86" textLength="54.31" lengthAdjust="spacingAndGlyphs">Price</tspan> <tspan x="-779.12" textLength="58.78" lengthAdjust="spacingAndGlyphs">Index</tspan> <tspan x="-713.63" textLength="158.43" lengthAdjust="spacingAndGlyphs">Year-over-year</tspan> <tspan x="-549.56" textLength="19.03" lengthAdjust="spacingAndGlyphs">%</tspan> <tspan x="-523.11" textLength="83.57" lengthAdjust="spacingAndGlyphs">Change</tspan></text>
<text font-size="20.4" fill="#48545e" font-style="italic" y="1200.6"><tspan x="1427.83" textLength="50.83" lengthAdjust="spacingAndGlyphs">Latest</tspan> <tspan x="1484.6" textLength="40.41" lengthAdjust="spacingAndGlyphs">data</tspan> <tspan x="1529.9" textLength="43.8" lengthAdjust="spacingAndGlyphs">point</tspan> <tspan x="1578.8" textLength="13.27" lengthAdjust="spacingAndGlyphs">is</tspan> <tspan x="1596.05" textLength="32.05" lengthAdjust="spacingAndGlyphs">Jan</tspan> <tspan x="1632.71" textLength="40.19" lengthAdjust="spacingAndGlyphs">2026</tspan></text>
<text font-size="23.0" fill="#000" y="1322.6"><tspan x="1547.1" textLength="86.91" lengthAdjust="spacingAndGlyphs">Sources:</tspan> <tspan x="1638.15" textLength="132.08" lengthAdjust="spacingAndGlyphs">Clearnomics,</tspan></text>
<text font-size="23.0" fill="#000" y="1348.8"><tspan x="1685.78" textLength="40.95" lengthAdjust="spacingAndGlyphs">U.S.</tspan> <tspan x="1730.9" textLength="39.16" lengthAdjust="spacingAndGlyphs">EIA,</tspan></text>
<text font-size="23.0" fill="#000" y="1374.8"><tspan x="1511.76" textLength="72.43" lengthAdjust="spacingAndGlyphs">Bureau</tspan> <tspan x="1588.99" textLength="19.97" lengthAdjust="spacingAndGlyphs">of</tspan> <tspan x="1613.92" textLength="58.56" lengthAdjust="spacingAndGlyphs">Labor</tspan> <tspan x="1677.06" textLength="91.46" lengthAdjust="spacingAndGlyphs">Statistics</tspan></text>
<text font-size="18.0" fill="#8c8c8c" y="1402"><tspan x="1580.53" textLength="13.15" lengthAdjust="spacingAndGlyphs">©</tspan> <tspan x="1598.05" textLength="37.59" lengthAdjust="spacingAndGlyphs">2026</tspan> <tspan x="1638.91" textLength="102.57" lengthAdjust="spacingAndGlyphs">Clearnomics,</tspan> <tspan x="1743.47" textLength="30.25" lengthAdjust="spacingAndGlyphs">Inc.</tspan></text>
<text class="serif" x="1530.75" y="113.6" font-size="46.1" fill="#174f87" stroke="#174f87" stroke-width="0.7" stroke-linejoin="round" letter-spacing="4.22" textLength="211.5" lengthAdjust="spacingAndGlyphs">GLACIER</text>
<text font-size="11.3" fill="#2a6296" y="129.9"><tspan x="1532.46" textLength="93.6" lengthAdjust="spacing">INVESTMENT</tspan> <tspan x="1634.07" textLength="103.29" lengthAdjust="spacing">MANAGEMENT</tspan></text>
</svg>
</body>
</html>
